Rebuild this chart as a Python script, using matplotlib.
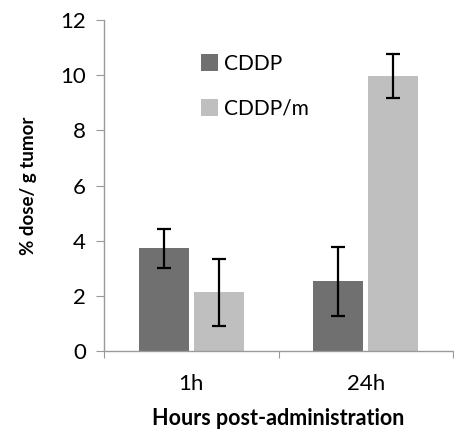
import matplotlib
matplotlib.use("Agg")
import matplotlib.pyplot as plt
import numpy as np

categories = ["1h", "24h"]
series_names = ["CDDP", "CDDP/m"]
cddp = [3.72, 2.52]
cddp_err = [0.72, 1.25]
cddpm = [2.13, 9.98]
cddpm_err = [1.22, 0.81]
colors = ["#707070", "#bfbfbf"]
yticks = [0, 2, 4, 6, 8, 10, 12]

plt.rcParams['font.family'] = ['Lato', 'DejaVu Sans']

fig = plt.figure(figsize=(4.54, 4.30), dpi=100)
ax = fig.add_axes([0.229, 0.184, 0.769, 0.769])

x = np.arange(len(categories))
w = 0.287
off = 0.158
ekw = dict(elinewidth=1.6, capthick=1.6, ecolor="black")
ax.bar(x - off, cddp, w, color=colors[0], label=series_names[0],
       yerr=cddp_err, capsize=5, error_kw=ekw)
ax.bar(x + off, cddpm, w, color=colors[1], label=series_names[1],
       yerr=cddpm_err, capsize=5, error_kw=ekw)

ax.set_xlim(-0.5, 1.5)
ax.set_ylim(0, 12)
ax.set_yticks(yticks)
ax.set_xticks([-0.5, 0.5, 1.5])
ax.set_xticklabels([])
ax.set_xticks(x, minor=True)
ax.set_xticklabels(categories, minor=True)
ax.tick_params(axis='x', which='minor', length=0, pad=17, labelsize=16)
ax.tick_params(axis='x', which='major', length=5, color="#999999", direction='out')
ax.tick_params(axis='y', length=6, color="#999999", labelsize=16, pad=7)

for s in ["top", "right"]:
    ax.spines[s].set_visible(False)
for s in ["left", "bottom"]:
    ax.spines[s].set_color("#9a9a9a")
    ax.spines[s].set_linewidth(1.0)

ax.set_ylabel("% dose/ g tumor", fontsize=13.5, fontweight="bold", labelpad=17)
ax.set_xlabel("Hours post-administration", fontsize=15.5, fontweight="bold", labelpad=9.5)

ax.legend(loc="upper left", bbox_to_anchor=(0.225, 0.955), frameon=False,
          fontsize=15, handlelength=0.8, handleheight=0.9, handletextpad=0.3,
          labelspacing=1.2)

fig.savefig("out.png", dpi=100)
